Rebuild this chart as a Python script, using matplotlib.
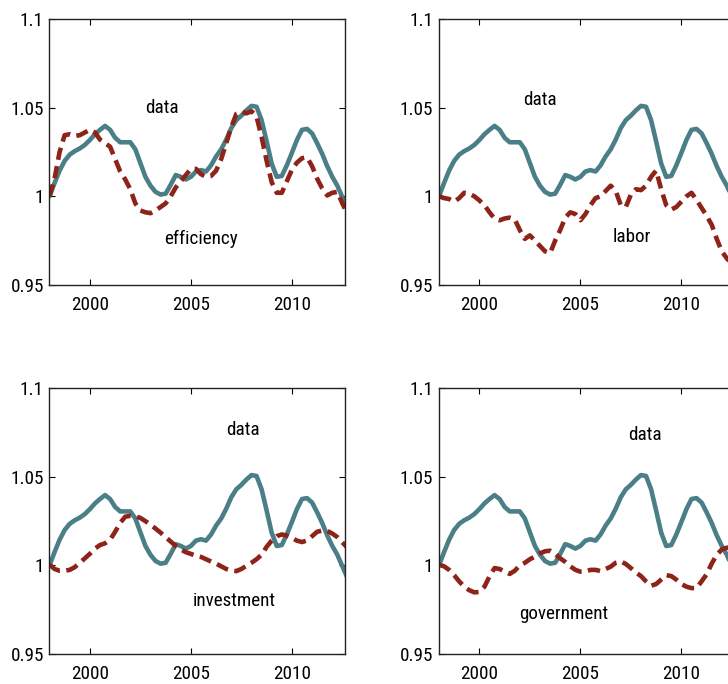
import numpy as np
import matplotlib
matplotlib.use("Agg")
import matplotlib.pyplot as plt
from matplotlib import font_manager as fm

quarters = np.arange(1998.0, 2012.76, 0.25)

data = [1.000, 1.0075, 1.0145, 1.0200, 1.0235, 1.0255, 1.0270, 1.0290,
        1.0318, 1.0350, 1.0375, 1.0397, 1.0375, 1.0330, 1.0305, 1.0305,
        1.0305, 1.0265, 1.0187, 1.0110, 1.0060, 1.0025, 1.0010, 1.0015,
        1.0065, 1.0120, 1.0110, 1.0095, 1.0110, 1.0140, 1.0148, 1.0140,
        1.0175, 1.0225, 1.0265, 1.0320, 1.0385, 1.0430, 1.0455, 1.0485,
        1.0510, 1.0505, 1.0430, 1.0310, 1.0185, 1.0110, 1.0115, 1.0175,
        1.0245, 1.0318, 1.0375, 1.0380, 1.0355, 1.0300, 1.0240, 1.0170,
        1.0110, 1.0060, 0.9995, 0.9930]

efficiency = [1.000, 1.010, 1.025, 1.0345, 1.035, 1.034, 1.0345, 1.036,
              1.0375, 1.036, 1.032, 1.030, 1.028, 1.021, 1.014, 1.0095,
              1.004, 0.996, 0.992, 0.991, 0.9905, 0.992, 0.994, 0.996,
              1.000, 1.005, 1.0085, 1.012, 1.0155, 1.0155, 1.0125, 1.011,
              1.0115, 1.0145, 1.021, 1.030, 1.039, 1.0465, 1.0478, 1.0468,
              1.048, 1.045, 1.0335, 1.020, 1.008, 1.002, 1.002, 1.0085,
              1.015, 1.019, 1.0215, 1.022, 1.017, 1.010, 1.0045, 1.0005,
              1.002, 1.0025, 0.996, 0.990]

labor = [1.000, 0.999, 0.9985, 0.997, 0.999, 1.002, 1.0015, 1.000,
         0.9977, 0.995, 0.991, 0.9874, 0.9865, 0.9875, 0.988, 0.987,
         0.981, 0.976, 0.978, 0.975, 0.972, 0.969, 0.968, 0.975,
         0.981, 0.988, 0.991, 0.990, 0.9865, 0.990, 0.995, 0.999,
         1.000, 1.003, 1.006, 1.003, 0.995, 0.994, 1.001, 1.004,
         1.0035, 1.006, 1.011, 1.0145, 1.004, 0.995, 0.9925, 0.994,
         0.997, 1.000, 1.002, 0.998, 0.9935, 0.989, 0.984, 0.976,
         0.969, 0.965, 0.962, 0.960]

investment = [1.0005, 0.998, 0.997, 0.997, 0.9975, 0.999, 1.0015, 1.004,
              1.0066, 1.0095, 1.0115, 1.0125, 1.0145, 1.019, 1.024, 1.0275,
              1.028, 1.0278, 1.0268, 1.025, 1.023, 1.0208, 1.0185, 1.016,
              1.0135, 1.011, 1.009, 1.0075, 1.0065, 1.0055, 1.0048, 1.0035,
              1.0022, 1.001, 0.9995, 0.998, 0.997, 0.9968, 0.998, 0.9998,
              1.0015, 1.0035, 1.006, 1.0105, 1.014, 1.0165, 1.0175, 1.0168,
              1.0155, 1.014, 1.0132, 1.0141, 1.0165, 1.019, 1.0197, 1.0195,
              1.018, 1.016, 1.013, 1.010]

government = [1.0004, 0.9995, 0.9975, 0.9945, 0.991, 0.988, 0.986, 0.9848,
              0.985, 0.988, 0.9938, 0.9985, 0.998, 0.9965, 0.9952, 0.997,
              1.000, 1.0015, 1.0035, 1.005, 1.0068, 1.008, 1.0083, 1.0065,
              1.004, 1.002, 0.9995, 0.9975, 0.9965, 0.9965, 0.9975, 0.9975,
              0.9968, 0.998, 0.9993, 1.0015, 1.0023, 1.0008, 0.9985, 0.996,
              0.994, 0.991, 0.9885, 0.9895, 0.992, 0.9945, 0.994, 0.992,
              0.9895, 0.988, 0.9872, 0.9872, 0.991, 0.995, 1.001, 1.006,
              1.009, 1.010, 1.010, 1.008]

tick_labels_y = ['0.95', '1', '1.05', '1.1']
ticks_y = [0.95, 1.0, 1.05, 1.1]
ticks_x = [2000, 2005, 2010]

panels = [
    ("efficiency", efficiency, (2003.57, 1.0498), (2005.5, 0.9757)),
    ("labor", labor, (2002.98, 1.0543), (2007.56, 0.9768)),
    ("investment", investment, (2007.58, 1.0762), (2007.13, 0.9800)),
    ("government", government, (2008.2, 1.0734), (2004.16, 0.9723)),
]


def find_narrow_font():
    prefs = ['Liberation Sans Narrow', 'Arial Narrow', 'Nimbus Sans Narrow',
             'Roboto Condensed', 'Noto Sans Condensed', 'Open Sans Condensed',
             'DejaVu Sans Condensed']
    flist = fm.fontManager.ttflist

    def regular(f):
        w = f.weight
        return f.style == 'normal' and (w in (400, 'normal', 'regular', 'book'))

    for p in prefs:
        for f in flist:
            if f.name == p and regular(f):
                return f.fname
    for f in flist:
        if str(f.stretch) in ('condensed', 'semi-condensed') and regular(f) \
                and 'Mono' not in f.name and 'Serif' not in f.name \
                and 'CJK' not in f.name:
            return f.fname
    return None


narrow = find_narrow_font()
if narrow:
    fp = fm.FontProperties(fname=narrow, size=13.8)
else:
    plt.rcParams['font.family'] = ['Liberation Sans', 'DejaVu Sans']
    fp = fm.FontProperties(family=['Liberation Sans', 'DejaVu Sans'], size=13)

W, H = 728, 684
fig = plt.figure(figsize=(W / 100, H / 100), dpi=100)

# axes rectangles in pixels: left, top, width, height
rects = [(49.5, 19, 295.5, 266), (439, 19, 295.5, 266),
         (49.5, 388.3, 295.5, 265.7), (439, 388.3, 295.5, 265.7)]

teal = '#4b7f87'
red = '#8e2419'

for (name, series, dpos, npos), (l, t, w, h) in zip(panels, rects):
    ax = fig.add_axes([l / W, (H - t - h) / H, w / W, h / H])
    ax.plot(quarters, data, color=teal, lw=3.3, solid_capstyle='round')
    ax.plot(quarters, series, color=red, lw=3.3, linestyle=(0, (2.7, 1.4)),
            dash_capstyle='butt')
    ax.set_xlim(1998, 2012.63)
    ax.set_ylim(0.95, 1.1)
    ax.set_xticks(ticks_x)
    ax.set_xticklabels([str(v) for v in ticks_x], fontproperties=fp)
    ax.set_yticks(ticks_y)
    ax.set_yticklabels(tick_labels_y, fontproperties=fp)
    ax.tick_params(direction='in', top=True, right=True, length=4, width=0.8,
                   colors='black')
    ax.tick_params(axis='x', pad=8)
    ax.tick_params(axis='y', pad=4)
    for sp in ax.spines.values():
        sp.set_linewidth(1.0)
        sp.set_color('#222222')
    ax.text(dpos[0], dpos[1], 'data', fontproperties=fp, ha='center', va='center')
    ax.text(npos[0], npos[1], name, fontproperties=fp, ha='center', va='center')

fig.savefig('out.png', dpi=100)
